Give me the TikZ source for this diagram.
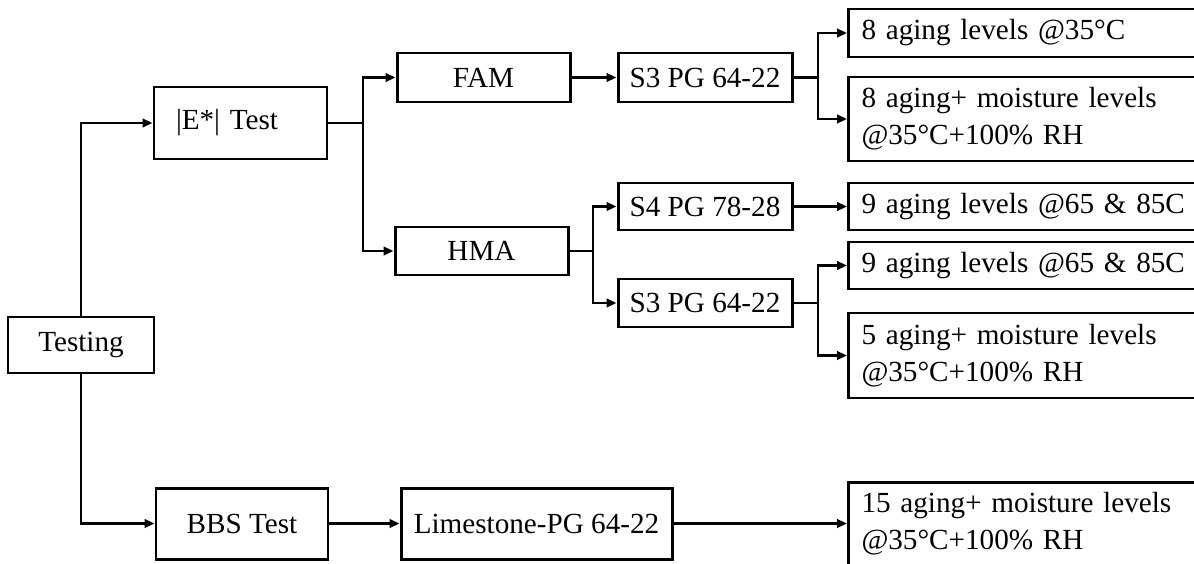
\documentclass[tikz,border=0pt]{standalone}
\usepackage{fontspec}
\setmainfont{Liberation Serif}
\usetikzlibrary{arrows.meta,positioning,calc}

\begin{document}
\begin{tikzpicture}[>={Triangle[length=2mm,width=1.7mm]},line width=1.4pt,
 font=\fontsize{16.6}{20.9}\selectfont,
 bx/.style={draw,line width=1.7pt,inner sep=0pt,minimum width=3.46cm,minimum height=0.96cm},
 lv/.style={draw,line width=1.7pt,anchor=west,align=left,inner ysep=0pt,inner xsep=0.26cm,text width=6.74cm}]
\useasboundingbox (0,0) rectangle (23.88,-11.26);
\clip (0,0) rectangle (23.88,-11.26);
\node[bx,minimum width=2.92cm,minimum height=1.12cm] (test) at (1.62,-6.90) {Testing};
\node[bx,minimum height=1.44cm,align=left,text width=2.58cm,inner xsep=0.44cm] (emod) at (4.81,-2.46) {|E*| Test};
\node[bx,minimum width=3.44cm,minimum height=1.42cm] (bbs) at (4.84,-10.47) {BBS Test};
\node[bx,minimum height=0.98cm] (fam) at (9.67,-1.55) {FAM};
\node[bx] (hma) at (9.63,-5.02) {HMA};
\node[bx,minimum width=5.42cm,minimum height=1.42cm] (lime) at (10.73,-10.47) {Limestone-PG 64-22};
\node[bx,minimum width=3.48cm,minimum height=0.98cm] (s3a) at (14.10,-1.55) {S3 PG 64-22};
\node[bx,minimum width=3.48cm,minimum height=0.94cm] (s4) at (14.10,-4.13) {S4 PG 78-28};
\node[bx,minimum width=3.48cm] (s3b) at (14.10,-6.06) {S3 PG 64-22};
\node[lv,minimum height=0.96cm] (r1) at (16.94,-0.66) {8 aging levels @35°C};
\node[lv,minimum height=1.68cm] (r2) at (16.94,-2.38) {8 aging+ moisture levels\\@35°C+100\% RH};
\node[lv,minimum height=0.94cm] (r3) at (16.94,-4.13) {9 aging levels @65 \& 85C};
\node[lv,minimum height=0.94cm] (r4) at (16.94,-5.31) {9 aging levels @65 \& 85C};
\node[lv,minimum height=1.70cm] (r5) at (16.94,-7.11) {5 aging+ moisture levels\\@35°C+100\% RH};
\node[lv,minimum height=1.66cm] (r6) at (16.94,-10.47) {15 aging+ moisture levels\\@35°C+100\% RH};
% branch points
\coordinate (k0) at (7.26,-2.46);
\coordinate (k1) at (11.86,-5.02);
\coordinate (k2) at (16.36,-1.55);
\coordinate (k3) at (16.36,-6.06);
\draw[->] (test.north) |- (emod.west);
\draw[->] (test.south) |- (bbs.west);
\draw (emod.east) -- (k0);
\draw (hma.east) -- (k1);
\draw (s3a.east) -- (k2);
\draw (s3b.east) -- (k3);
\foreach \a/\b in {k0/fam,k0/hma,k1/s4,k1/s3b,k2/r1,k2/r2,k3/r4,k3/r5} \draw[->] (\a) |- (\b.west);
\draw[->] (fam.east) -- (s3a.west);
\draw[->] (s4.east) -- (r3.west);
\draw[->] (bbs.east) -- (lime.west);
\draw[->] (lime.east) -- (r6.west);
\end{tikzpicture}
\end{document}
